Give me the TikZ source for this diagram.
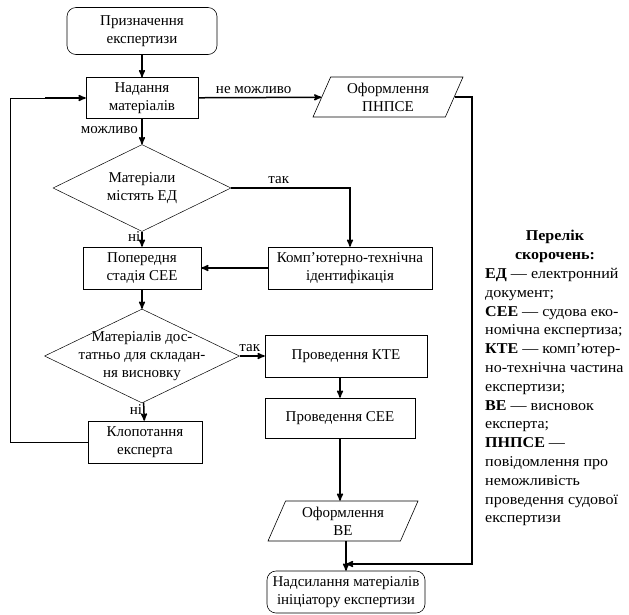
\documentclass[tikz,border=0pt]{standalone}
\usepackage{fontspec}
\setmainfont{Liberation Serif}
\newfontfamily\legendfont{Liberation Serif}[FakeStretch=1.07]
\usetikzlibrary{shapes, arrows, positioning}

\begin{document}
\begin{tikzpicture}[x=1pt, y=-1pt, >=stealth', font=\fontsize{15}{18}\selectfont]
	\tikzset{proc/.style={draw, line width=0.6pt, rectangle, align=center, inner sep=2pt},
		term/.style={proc, rounded corners=9pt},
		decision/.style={draw, line width=0.5pt, diamond, inner sep=0pt},
		io/.style={draw, line width=0.6pt, trapezium, trapezium left angle=60, trapezium right angle=120, trapezium stretches body=true, align=center, inner sep=1pt},
		flow/.style={->, line width=1.5pt},
		plain/.style={line width=0.7pt}}
	\useasboundingbox (0,0) rectangle (629,614);
	% left column
	\node[term, minimum width=150pt, minimum height=47pt] (start) at (142,31) {Призначення\\експертизи};
	\node[proc, minimum width=112pt, minimum height=41pt] (give) at (142,98) {Надання\\матеріалів};
	\node[decision, minimum width=178pt, minimum height=87pt] (hasED) at (142,188) {};
	\node[align=center] (hasEDtext) at (hasED) {Матеріали\\містять ЕД};
	\node[proc, minimum width=118pt, minimum height=42pt] (prelim) at (142,268) {Попередня\\стадія СЕЕ};
	\node[decision, minimum width=195pt, minimum height=94pt] (enough) at (142,356) {};
	\node[align=center] (enoughtext) at (enough) {Матеріалів дос-\\татньо для складан-\\ня висновку};
	\node[proc, minimum width=114pt, minimum height=42pt] (petition) at (145,442) {Клопотання\\експерта};
	% right column
	\node[io, minimum width=150pt, minimum height=40pt] (pnpse) at (388,97) {Оформлення\\ПНПСЕ};
	\node[proc, minimum width=164pt, minimum height=42pt] (kti) at (350,268) {Комп’ютерно-технічна\\ідентифікація};
	\node[proc, minimum width=162pt, minimum height=42pt] (kte) at (346,356) {Проведення КТЕ};
	\node[proc, minimum width=150pt, minimum height=40pt] (see) at (340,418) {Проведення СЕЕ};
	\node[io, minimum width=150pt, minimum height=40pt] (conclusion) at (343,521) {Оформлення\\ВЕ};
	\node[term, minimum width=158pt, minimum height=42pt] (send) at (346,592) {Надсилання матеріалів\\ініціатору експертизи};
	% legend
	\node[align=center, font=\legendfont\fontsize{15}{19}\selectfont\bfseries] (legtitle) at (555,246) {Перелік\\скорочень:};
	\node[align=left, anchor=north west, inner sep=0pt, font=\legendfont\fontsize{15}{18.8}\selectfont] (legbody) at (485,268)
		{\textbf{ЕД} — електронний\\документ;\\\textbf{СЕЕ} — судова еко-\\номічна експертиза;\\\textbf{КТЕ} — комп’ютер-\\но-технічна частина\\експертизи;\\\textbf{ВЕ} — висновок\\експерта;\\\textbf{ПНПСЕ} —\\повідомлення про\\неможливість\\проведення судової\\експертизи};
	% connectors
	\coordinate (loopend) at (45,98);
	\coordinate (rightjoin) at (346,564);
	\coordinate (rightturn) at (472,564);
	\draw[flow] (start) -- (give);
	\draw[flow] (give) -- node[above, pos=0.45] {не можливо} (pnpse);
	\draw[flow] (give) -- node[left, pos=0.45] {можливо} (hasED);
	\draw[flow] (hasED.east) -| node[above, pos=0.2] {так} (kti.north);
	\draw[flow] (hasED) -- node[left, pos=0.35, inner sep=1pt] {ні} (prelim);
	\draw[flow] (kti) -- (prelim);
	\draw[flow] (prelim) -- (enough);
	\draw[flow] (enough.east) -- node[above, pos=0.4] {так} (kte.west |- enough.east);
	\draw[flow] (enough) -- node[left, pos=0.4, inner sep=1pt] {ні} (petition);
	\draw[plain] (petition.west) -| (10,98) -- (loopend);
	\draw[flow] (loopend) -- (give.west);
	\draw[flow] (kte.south -| see.north) -- (see.north);
	\draw[flow] (see.south) -- (see.south |- conclusion.north);
	\draw[flow] (conclusion.south -| send.north) -- (send.north);
	\draw[flow] (pnpse.east) -| (rightturn) -- (rightjoin);
\end{tikzpicture}
\end{document}
